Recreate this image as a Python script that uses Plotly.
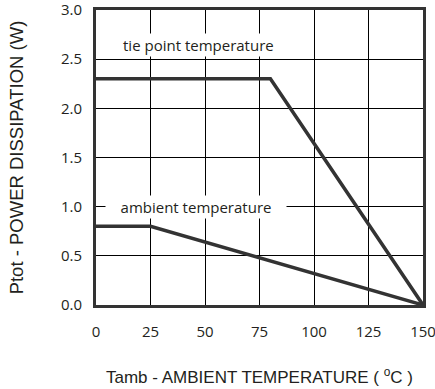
import plotly.graph_objects as go

tie_x = [0, 80, 150]
tie_y = [2.3, 2.3, 0.0]
amb_x = [0, 25, 150]
amb_y = [0.8, 0.8, 0.0]
x_ticks = [0, 25, 50, 75, 100, 125, 150]
y_ticks = [0.0, 0.5, 1.0, 1.5, 2.0, 2.5, 3.0]
y_tick_text = ["0.0", "0.5", "1.0", "1.5", "2.0", "2.5", "3.0"]

line_col = "#333333"
fig = go.Figure()
fig.add_trace(go.Scatter(x=tie_x, y=tie_y, mode="lines",
                         line=dict(color=line_col, width=3.5), showlegend=False))
fig.add_trace(go.Scatter(x=amb_x, y=amb_y, mode="lines",
                         line=dict(color=line_col, width=3.5), showlegend=False))

tick_font = dict(family="Open Sans, sans-serif", size=15, color="#231f20")
xtitle_font = dict(family="Liberation Sans, Arial, sans-serif", size=17, color="#231f20")
ytitle_font = dict(family="Liberation Sans, Arial, sans-serif", size=18.5, color="#231f20")
fig.add_annotation(x=47, y=2.64, text="tie point temperature", showarrow=False,
                   bgcolor="white", font=dict(family="Open Sans, sans-serif", size=15, color="#231f20"))
fig.add_annotation(x=46, y=1.0, text="ambient temperature", showarrow=False,
                   bgcolor="white", width=178,
                   font=dict(family="Open Sans, sans-serif", size=15, color="#231f20"))

fig.update_layout(
    width=435, height=389,
    margin=dict(l=96, r=12, t=10, b=84, autoexpand=False),
    paper_bgcolor="white", plot_bgcolor="white",
    font=xtitle_font,
    xaxis=dict(range=[0, 150], tickvals=x_ticks, showgrid=True, gridcolor="black",
               gridwidth=1, showline=True, linecolor=line_col, linewidth=3,
               mirror=True, zeroline=False, ticks="", ticklabelstandoff=11,
               tickfont=tick_font, automargin=False, ticklabeloverflow="allow",
               title=dict(text="Tamb - AMBIENT TEMPERATURE ( <sup>o</sup>C )",
                          font=xtitle_font, standoff=32)),
    yaxis=dict(range=[0, 3.0], tickvals=y_ticks, ticktext=y_tick_text, showgrid=True,
               gridcolor="black", gridwidth=1, showline=True, linecolor=line_col,
               linewidth=3, mirror=True, zeroline=False, ticks="",
               ticklabelstandoff=8, tickfont=tick_font, automargin=False,
               ticklabeloverflow="allow",
               title=dict(text="Ptot - POWER DISSIPATION (W)", font=ytitle_font,
                          standoff=33)),
)
fig.write_html("out.html", config={"displayModeBar": False},
               post_script="document.body.style.margin='0';")
